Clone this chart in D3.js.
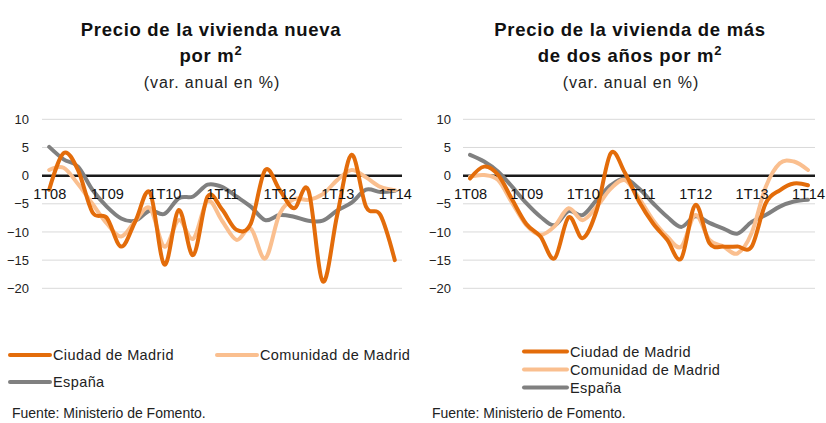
<!DOCTYPE html>
<html>
<head>
<meta charset="utf-8">
<script src="https://cdn.jsdelivr.net/npm/d3@7"></script>
<style>
  body { margin: 0; background: #fff; }
  svg { font-family: "Liberation Sans", Arial, sans-serif; }
</style>
</head>
<body>
<svg id="chart" width="826" height="423"></svg>
<script>
// Quarters 1T08 .. 1T14
const quarters = [
  "1T08","2T08","3T08","4T08","1T09","2T09","3T09","4T09",
  "1T10","2T10","3T10","4T10","1T11","2T11","3T11","4T11",
  "1T12","2T12","3T12","4T12","1T13","2T13","3T13","4T13","1T14"
];
const tickLabels = ["1T08","1T09","1T10","1T11","1T12","1T13","1T14"];
const yTicks = [10, 5, 0, -5, -10, -15, -20];
const seriesNames = ["Ciudad de Madrid", "Comunidad de Madrid", "España"];

// Vivienda nueva: variación anual (%)
const nuevaCiudad = [-2.5, 4.0, 1.0, -6.5, -7.5, -12.6, -8.0, -3.0, -15.8, -6.1, -14.1, -3.7,
                     -6.0, -9.6, -8.5, 1.0, -2.5, -5.8, -2.6, -18.8, -7.0, 3.7, -5.5, -7.0, -15.0];
const nuevaComunidad = [1.0, 1.4, -1.5, -5.0, -8.5, -10.8, -8.0, -5.8, -12.6, -7.9, -11.2, -4.5,
                        -8.0, -11.4, -9.4, -14.7, -6.8, -4.2, -4.3, -3.3, -0.8, 1.0, -0.3, -2.0, -2.6];
const nuevaEspana = [5.1, 2.9, 1.6, -2.5, -5.5, -7.6, -8.0, -6.2, -6.8, -4.0, -3.7, -1.6,
                     -2.0, -3.7, -5.5, -7.9, -7.0, -7.3, -8.0, -8.0, -6.2, -4.8, -2.5, -2.9, -2.7];

// Vivienda de más de dos años: variación anual (%)
const usadaCiudad = [-0.5, 1.6, 0.1, -4.3, -8.6, -10.8, -14.7, -7.4, -11.1, -6.1, 4.0, 0.5,
                     -4.6, -8.5, -11.4, -14.7, -5.2, -12.0, -12.6, -12.6, -12.6, -4.9, -2.6, -1.4, -1.7];
const usadaComunidad = [-0.2, 0.1, -0.8, -4.9, -8.8, -10.5, -9.0, -5.8, -7.9, -5.5, -2.3, -0.8,
                        -4.0, -7.9, -10.8, -12.6, -7.0, -11.4, -12.6, -13.8, -10.2, -2.0, 2.2, 2.5, 1.0];
const usadaEspana = [3.7, 2.5, 0.7, -2.0, -4.9, -7.3, -8.8, -6.3, -7.0, -4.3, -1.7, -0.5,
                     -2.3, -4.9, -7.3, -9.1, -7.2, -8.4, -9.4, -10.3, -8.2, -7.0, -5.5, -4.6, -4.3];

const colors = ["#e36c0a", "#fabf8f", "#808080"];

const svg = d3.select("#chart");

const y = d3.scaleLinear().domain([-20, 10]).range([288.3, 119.3]);

const panels = [
  {
    left: 42, right: 402, cx: 211,
    title: [["Precio de la vivienda nueva", ""], ["por m", "2"]],
    series: [nuevaCiudad, nuevaComunidad, nuevaEspana],
    yLabelX: 29,
    legend: [
      { sx: 10, y: 355, w: 40 },
      { sx: 217, y: 355, w: 40 },
      { sx: 10, y: 382, w: 40 }
    ],
    sourceX: 12
  },
  {
    left: 463, right: 815, cx: 630,
    title: [["Precio de la vivienda de más", ""], ["de dos años por m", "2"]],
    series: [usadaCiudad, usadaComunidad, usadaEspana],
    yLabelX: 451,
    legend: [
      { sx: 524, y: 351.5, w: 43 },
      { sx: 524, y: 369.5, w: 43 },
      { sx: 524, y: 387.5, w: 43 }
    ],
    sourceX: 432
  }
];

panels.forEach(p => {
  const g = svg.append("g");
  const x = d3.scalePoint().domain(quarters).range([p.left, p.right]).padding(0.5);

  // Titles
  p.title.forEach((line, i) => {
    const t = g.append("text")
      .attr("x", p.cx).attr("y", 36 + i * 26)
      .attr("text-anchor", "middle")
      .attr("font-size", 18.5).attr("font-weight", "bold")
      .attr("letter-spacing", 0.7)
      .attr("fill", "#111");
    t.append("tspan").text(line[0]);
    if (line[1]) {
      t.append("tspan").attr("dy", -7).attr("font-size", 13).text(line[1]);
    }
  });
  g.append("text")
    .attr("x", p.cx + 1).attr("y", 88)
    .attr("text-anchor", "middle")
    .attr("font-size", 16).attr("fill", "#222")
    .attr("letter-spacing", 0.9)
    .text("(var. anual en %)");

  // Gridlines (non-zero)
  g.append("g").selectAll("line")
    .data(yTicks.filter(v => v !== 0))
    .join("line")
    .attr("x1", p.left).attr("x2", p.right)
    .attr("y1", d => y(d)).attr("y2", d => y(d))
    .attr("stroke", "#d9d9d9").attr("stroke-width", 1);

  // Y axis labels
  const yAxis = d3.axisLeft(y).tickValues(yTicks).tickSize(0).tickPadding(0).tickFormat(d3.format("d"));
  const ya = g.append("g").attr("transform", `translate(${p.yLabelX},0)`).call(yAxis);
  ya.select(".domain").remove();
  ya.selectAll("text").attr("font-size", 13).attr("fill", "#222")
    .attr("font-family", "'Liberation Sans', Arial, sans-serif");

  // Zero line
  g.append("line")
    .attr("x1", p.left).attr("x2", p.right)
    .attr("y1", y(0)).attr("y2", y(0))
    .attr("stroke", "#1a1a1a").attr("stroke-width", 2.5);

  // Series lines (España underneath, Ciudad on top)
  const line = d3.line()
    .x((d, i) => x(quarters[i]))
    .y(d => y(d))
    .curve(d3.curveCatmullRom.alpha(0));
  [2, 1, 0].forEach(k => {
    g.append("path")
      .datum(p.series[k])
      .attr("d", line)
      .attr("fill", "none")
      .attr("stroke", colors[k])
      .attr("stroke-width", 4)
      .attr("stroke-linejoin", "round")
      .attr("stroke-linecap", "round");
  });

  // Category labels just under the zero line, drawn over the lines
  const xAxis = d3.axisBottom(x).tickValues(tickLabels).tickSize(0).tickPadding(0);
  const xa = g.append("g").attr("transform", `translate(0,${y(0) + 13})`).call(xAxis);
  xa.select(".domain").remove();
  xa.selectAll("text").attr("font-size", 14.5).attr("fill", "#111")
    .attr("font-family", "'Liberation Sans', Arial, sans-serif");

  // Legend
  p.legend.forEach((l, k) => {
    g.append("line")
      .attr("x1", l.sx).attr("x2", l.sx + l.w)
      .attr("y1", l.y).attr("y2", l.y)
      .attr("stroke", colors[k]).attr("stroke-width", 4)
      .attr("stroke-linecap", "round");
    g.append("text")
      .attr("x", l.sx + l.w + 3).attr("y", l.y + 5)
      .attr("font-size", 14.5).attr("fill", "#222")
      .attr("letter-spacing", 0.4)
      .text(seriesNames[k]);
  });

  // Source
  g.append("text")
    .attr("x", p.sourceX).attr("y", 418)
    .attr("font-size", 14).attr("fill", "#222")
    .text("Fuente: Ministerio de Fomento.");
});
</script>
</body>
</html>
